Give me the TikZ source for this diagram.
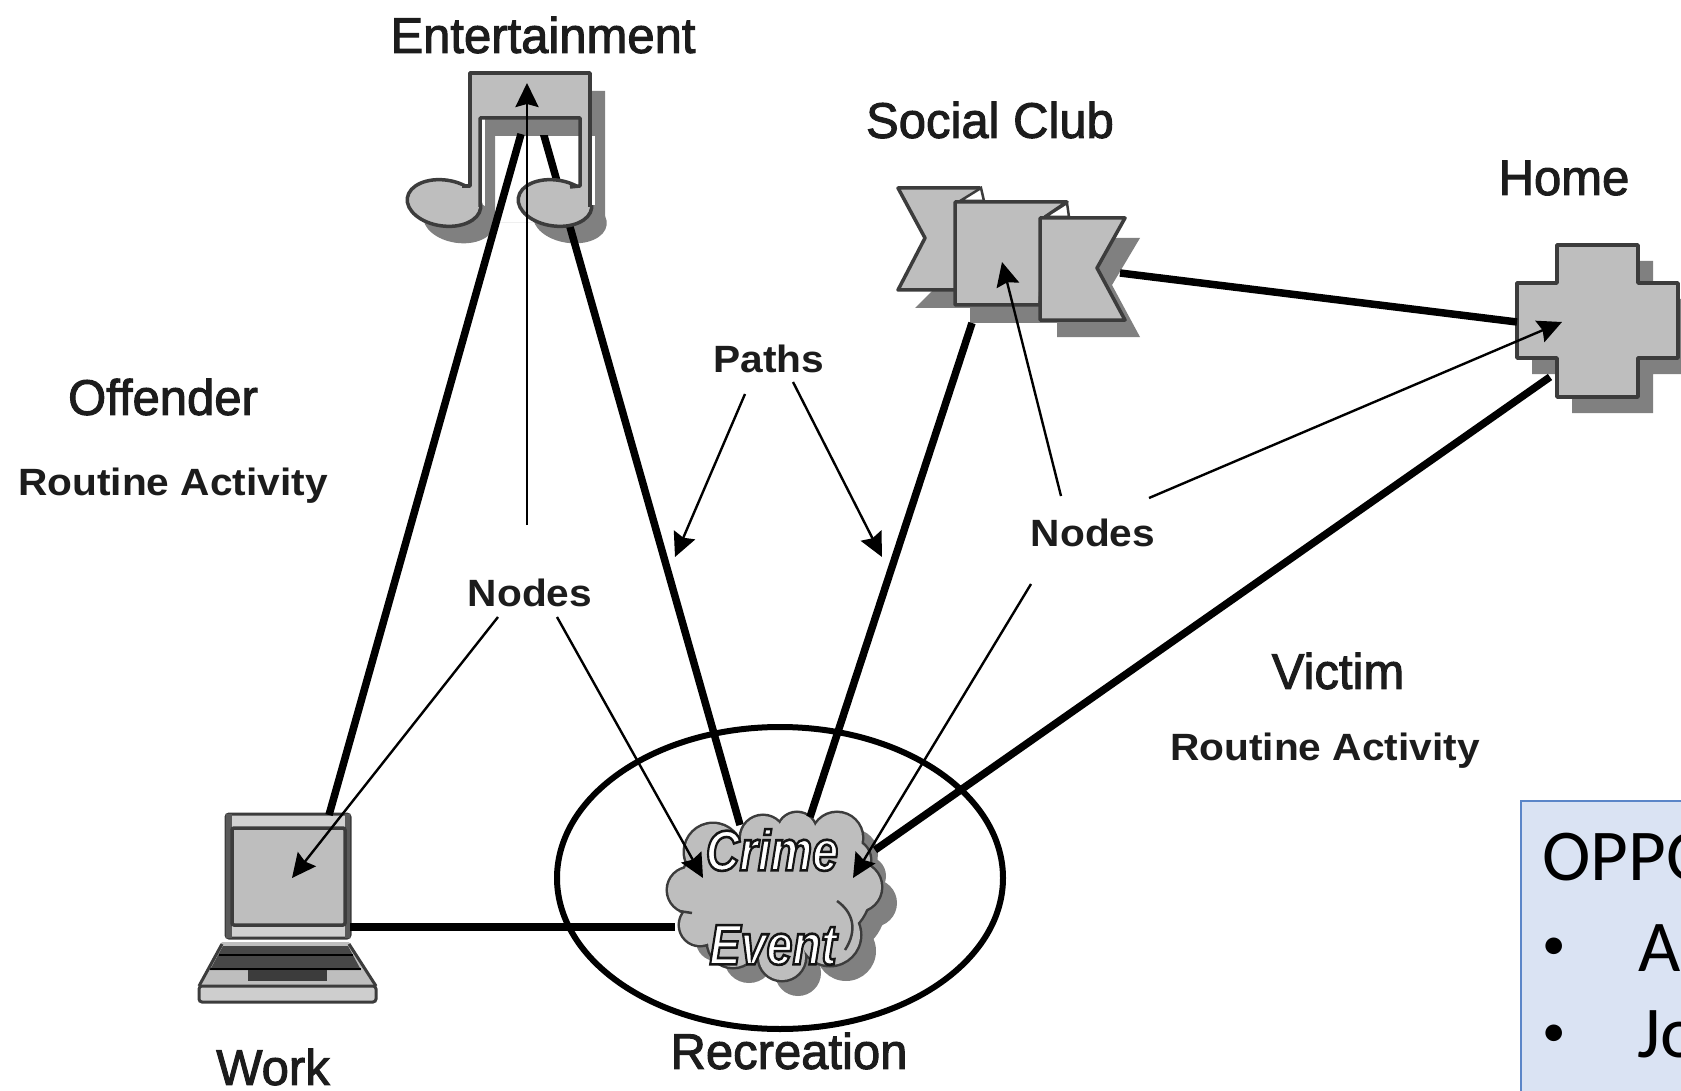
\documentclass[tikz,border=0pt]{standalone}
\usepackage{fontspec}
\usetikzlibrary{arrows.meta}
\setmainfont{Liberation Sans}
\newfontfamily\calibrifont{Carlito}
\definecolor{shadowgray}{HTML}{808080}
\definecolor{icongray}{HTML}{BEBEBE}
\definecolor{iconline}{HTML}{3C3C3C}
\definecolor{inktext}{HTML}{1C1C1C}
\definecolor{boxfill}{HTML}{DAE3F3}
\definecolor{boxline}{HTML}{5B86C8}
\newcommand{\outlinedtext}[1]{\special{pdf:code 2 Tr 2.6 w 0.08 0.08 0.08 RG}#1\special{pdf:code 0 Tr}}
\newcommand{\cloudbumps}[2]{%
  \foreach \cx/\cy/\cr in {690/890/22, 700/925/20, 713/852/28, 733/942/25, 763/838/22, 797/832/19, 837/838/25, 857/887/24, 850/860/20, 830/935/30, 782/957/23, 773/890/60, 730/890/50, 820/890/50}
    {\path[#1] (\cx+#2,\cy+#2) circle[radius=\cr];}}
\tikzset{
  iconpart/.style={fill=icongray,draw=iconline,line width=3.5pt,line join=round},
  pathline/.style={line width=7.5pt,draw=black},
  nodearrow/.style={line width=2.4pt,draw=black,-{Stealth[length=24pt,width=23pt,inset=3pt]}},
  bigarrow/.style={nodearrow,line width=2.8pt},
  title/.style={font=\fontsize{50}{50}\selectfont,text=inktext,xscale=0.98,transform shape,inner sep=0pt,
    execute at begin node=\special{pdf:code 2 Tr 1 w 0.11 0.11 0.11 RG},execute at end node=\special{pdf:code 0 Tr}},
  boldlabel/.style={font=\fontsize{38}{38}\selectfont\bfseries,text=inktext,xscale=1.07,transform shape,inner sep=0pt},
  cloudword/.style={font=\fontsize{57}{57}\selectfont\bfseries\itshape,text=white,xscale=0.82,transform shape,inner sep=0pt},
  boxword/.style={font=\fontsize{73}{73}\selectfont\calibrifont,text=black,anchor=base west,inner sep=0pt},
  boxbullet/.style={font=\fontsize{47}{47}\selectfont\calibrifont,text=black,anchor=base west,inner sep=0pt},
}
\begin{document}
\begin{tikzpicture}[x=1pt,y=-1pt]
\useasboundingbox (0,0) rectangle (1681,1091);
\clip (0,0) rectangle (1681,1091);
\fill[white] (0,0) rectangle (1681,1091);

% connector end points
\coordinate (workTop) at (329,815);
\coordinate (workRight) at (350,927);
\coordinate (entLeft) at (521,134);
\coordinate (entRight) at (543,132);
\coordinate (entArrow) at (527,83);
\coordinate (socialBottom) at (972,323);
\coordinate (socialRight) at (1120,273);
\coordinate (socialArrow) at (1002,262);
\coordinate (homeLeft) at (1517,322);
\coordinate (homeLow) at (1550,377);
\coordinate (homeArrow) at (1562,322);
\coordinate (crimeTopL) at (740,825);
\coordinate (crimeTopR) at (810,817);
\coordinate (crimeRight) at (875,850);
\coordinate (crimeLeft) at (675,927);
\coordinate (crimeArrowL) at (703,878);
\coordinate (crimeArrowR) at (853,878);
\coordinate (workArrow) at (292,878);
\coordinate (pathTipL) at (675,557);
\coordinate (pathTipR) at (882,557);

% blue text box
\path[fill=boxfill,draw=boxline,line width=2.5pt] (1521,801) rectangle (1700,1110);
\node[boxword] (boxhead) at (1542,880) {OPPO};
\node[boxbullet] (boxbulleta) at (1542,959) {•};
\node[boxword] (boxa) at (1638,971) {A};
\node[boxbullet] (boxbulletb) at (1542,1046) {•};
\node[boxword] (boxb) at (1637,1057) {Jo};

% ellipse
\draw[black,line width=6pt] (780,878) ellipse[x radius=223,y radius=151];

% music notes: shadow
\begin{scope}[shift={(15,18)}]
  \fill[shadowgray,even odd rule] (470,73)--(590,73)--(590,205)--(470,205)--cycle (480,118)--(580,118)--(580,205)--(480,205)--cycle;
  \fill[shadowgray,rotate around={-8:(444,202)}] (444,202) ellipse[x radius=36,y radius=23];
  \fill[shadowgray,rotate around={-8:(555,202)}] (555,202) ellipse[x radius=37,y radius=23];
\end{scope}
% path behind the right note
\draw[pathline] (entRight) -- (crimeTopL);
% music notes: main
\path[iconpart,rotate around={-8:(444,203)}] (444,203) ellipse[x radius=37,y radius=23];
\path[iconpart,rotate around={-8:(555,203)}] (555,203) ellipse[x radius=37,y radius=23];
\fill[icongray] (470,73)--(590,73)--(590,206)--(580,206)--(580,118)--(480,118)--(480,206)--(470,206)--cycle;
\fill[icongray] (460,186) rectangle (479,208);
\fill[icongray] (570,186) rectangle (589,208);
\draw[iconline,line width=3.5pt,line join=round] (462,186)--(470,186)--(470,73)--(590,73)--(590,207);
\draw[iconline,line width=3.5pt,line join=round] (480,207)--(480,118)--(580,118)--(580,186)--(570,187);
\fill[shadowgray] (491,120) rectangle (578,135);
\fill[white] (482,120) rectangle (485,200);
\fill[white] (592,136) rectangle (595,205);

% social club
\fill[shadowgray] (915,308)--(935,288)--(975,288)--(975,308)--cycle;
\fill[shadowgray] (970,323) rectangle (1062,300);
\fill[shadowgray] (1057,337)--(1057,300)--(1110,238)--(1140,238)--(1112,285)--(1140,337)--cycle;
\path[iconpart] (898,188)--(980,188)--(980,210)--(957,210)--(957,290)--(898,290)--(925,238)--cycle;
\fill[white,draw=iconline,line width=2.5pt] (960,201)--(981,188)--(984,201)--cycle;
\path[iconpart] (955,202)--(1067,202)--(1045,217)--(1040,305)--(955,305)--cycle;
\fill[white,draw=iconline,line width=2.5pt] (1045,217)--(1067,203)--(1069,217)--cycle;
\path[iconpart] (1040,218)--(1125,218)--(1097,268)--(1125,320)--(1040,320)--cycle;

% home cross
\fill[shadowgray,shift={(15,16)}] (1557,245)--(1638,245)--(1638,283)--(1700,283)--(1700,358)--(1638,358)--(1638,397)--(1557,397)--(1557,358)--(1517,358)--(1517,283)--(1557,283)--cycle;
\path[iconpart] (1557,245)--(1638,245)--(1638,283)--(1678,283)--(1678,358)--(1638,358)--(1638,397)--(1557,397)--(1557,358)--(1517,358)--(1517,283)--(1557,283)--cycle;

% laptop
\path[fill=icongray!70,draw=iconline,line width=3pt,rounded corners=3pt] (226,814) rectangle (350,938);
\fill[black!65] (226,814) rectangle (232,938);
\fill[black!65] (345,814) rectangle (350,938);
\path[fill=icongray,draw=iconline,line width=3.5pt,rounded corners=2pt] (232,828) rectangle (345,925);
\path[fill=icongray,draw=none] (222,942)--(349,942)--(377,986)--(198,986)--cycle;
\fill[black!72] (223,946)--(348,946)--(361,970)--(210,970)--cycle;
\draw[black,line width=2.5pt] (219,955)--(353,955);
\draw[black,line width=2.5pt] (210,969)--(361,969);
\fill[iconline] (248,970) rectangle (327,981);
\path[fill=icongray!75,draw=iconline,line width=3pt,rounded corners=3pt] (199,986) rectangle (376,1002);
\draw[iconline,line width=3pt,line join=round] (199,986)--(222,944);
\draw[iconline,line width=3pt,line join=round] (376,986)--(349,944);

% cloud
\cloudbumps{fill=shadowgray}{16}
\cloudbumps{draw=iconline,line width=5pt}{0}
\cloudbumps{fill=icongray}{0}
\draw[iconline,line width=2.5pt] (679,911) -- (692,913);
\draw[iconline,line width=2.5pt] (837,901) .. controls (853,912) and (858,930) .. (845,950);

% paths
\draw[pathline] (workTop) -- (entLeft);
\draw[pathline] (workRight) -- (crimeLeft);
\draw[pathline] (crimeTopR) -- (socialBottom);
\draw[pathline] (socialRight) -- (homeLeft);
\draw[pathline] (homeLow) -- (crimeRight);

% labels
\node[title] (entertainment) at (543,35) {Entertainment};
\node[title] (socialclub) at (990,120) {Social Club};
\node[title] (home) at (1564,178) {Home};
\node[title] (offender) at (163,397) {Offender};
\node[boldlabel] (routineA) at (173,486) {Routine Activity};
\node[boldlabel] (nodesA) at (530,593) {Nodes};
\node[boldlabel] (paths) at (769,359) {Paths};
\node[boldlabel] (nodesB) at (1093,533) {Nodes};
\node[title] (victim) at (1338,671) {Victim};
\node[boldlabel] (routineB) at (1325,751) {Routine Activity};
\node[title] (work) at (273,1067) {Work};
\node[title] (recreation) at (789,1051) {Recreation};

% arrows
\coordinate (nodesAup) at (527,525);
\coordinate (nodesAleft) at (498,617);
\coordinate (nodesAright) at (557,617);
\coordinate (pathsLeft) at (745,394);
\coordinate (pathsRight) at (793,382);
\coordinate (nodesBup) at (1061,496);
\coordinate (nodesBright) at (1149,498);
\coordinate (nodesBdown) at (1031,584);
\draw[bigarrow] (nodesAup) -- (entArrow);
\draw[nodearrow] (nodesAleft) -- (workArrow);
\draw[nodearrow] (nodesAright) -- (crimeArrowL);
\draw[nodearrow] (pathsLeft) -- (pathTipL);
\draw[nodearrow] (pathsRight) -- (pathTipR);
\draw[nodearrow] (nodesBup) -- (socialArrow);
\draw[nodearrow] (nodesBright) -- (homeArrow);
\draw[nodearrow] (nodesBdown) -- (crimeArrowR);

% cloud words
\node[cloudword] (crime) at (772,850) {\outlinedtext{Crime}};
\node[cloudword] (event) at (773,945) {\outlinedtext{Event}};
\end{tikzpicture}
\end{document}
